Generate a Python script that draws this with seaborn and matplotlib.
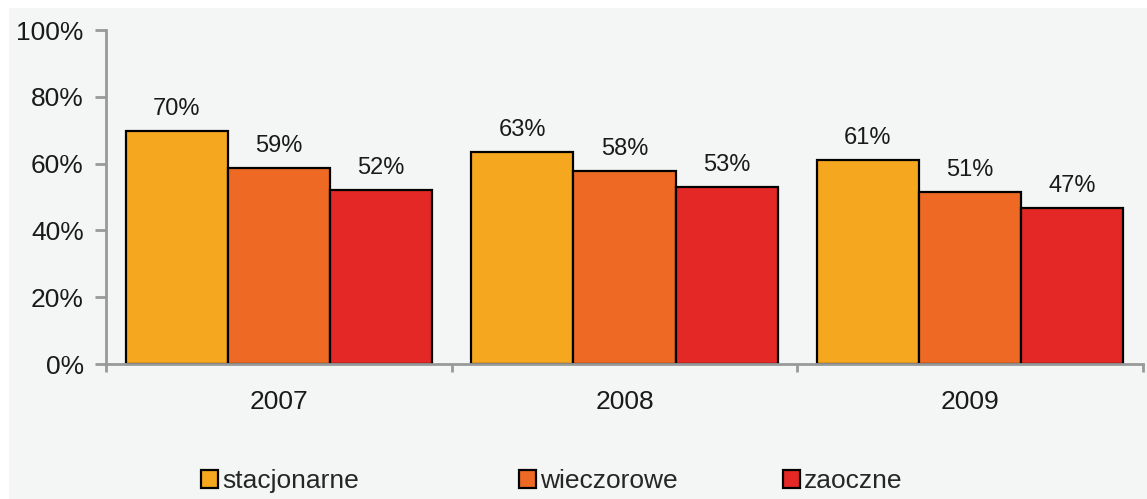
import pandas as pd
import seaborn as sns
import matplotlib.pyplot as plt
from matplotlib.patches import Rectangle
from matplotlib.ticker import PercentFormatter, FixedLocator

# --- data ---
years = ["2007", "2008", "2009"]
modes = ["stacjonarne", "wieczorowe", "zaoczne"]
stacjonarne = [69.8, 63.4, 61.0]
wieczorowe = [58.6, 57.7, 51.4]
zaoczne = [52.2, 53.0, 46.6]
colors = ["#F5A71F", "#EE6A24", "#E32826"]

BG = "#F4F5F5"
AXIS_GRAY = "#999999"

df = pd.DataFrame({
    "rok": years * 3,
    "tryb": [m for m in modes for _ in years],
    "val": stacjonarne + wieczorowe + zaoczne,
})

sns.set_theme(style="white")
plt.rcParams["font.family"] = ["Liberation Sans", "DejaVu Sans"]

fig = plt.figure(figsize=(11.47, 4.99), dpi=100, facecolor="white")
# light gray panel with thin white margin top/left
fig.patches.append(Rectangle((9 / 1147, 0), 1, 1 - 8 / 499, transform=fig.transFigure,
                             facecolor=BG, edgecolor="none", zorder=-10))

ax = fig.add_axes([106 / 1147, 1 - 364 / 499, (1143 - 106) / 1147, (364 - 30) / 499])
ax.set_facecolor(BG)

sns.barplot(data=df, x="rok", y="val", hue="tryb", hue_order=modes, palette=colors,
            saturation=1, width=0.887, edgecolor="black", linewidth=1.6, ax=ax)

for c in ax.containers:
    ax.bar_label(c, fmt="%.0f%%", padding=8, fontsize=17, color="#1a1a1a")

ax.set_ylim(0, 100)
ax.set_xlim(-0.5, 2.5)
ax.set_yticks([0, 20, 40, 60, 80, 100])
ax.yaxis.set_major_formatter(PercentFormatter(xmax=100, decimals=0))
ax.set_xlabel("")
ax.set_ylabel("")

for s in ["top", "right"]:
    ax.spines[s].set_visible(False)
for s in ["left", "bottom"]:
    ax.spines[s].set_color(AXIS_GRAY)
    ax.spines[s].set_linewidth(2)

ax.tick_params(axis="y", which="major", direction="out", length=8, width=2,
               color=AXIS_GRAY, labelsize=19, labelcolor="#1a1a1a", pad=8, left=True)
ax.tick_params(axis="x", which="major", length=0, labelsize=19, labelcolor="#1a1a1a", pad=19)
ax.xaxis.set_minor_locator(FixedLocator([-0.5, 0.5, 1.5, 2.5]))
ax.tick_params(axis="x", which="minor", direction="out", length=6, width=2,
               color=AXIS_GRAY, bottom=True)

handles, labels = ax.get_legend_handles_labels()
ax.get_legend().remove()
# one legend entry per slot, placed like the original
for h, lab, x0 in zip(handles, labels, [201, 519, 783]):
    fig.legend([h], [lab], loc="center left", bbox_to_anchor=(x0 / 1147, 1 - 481 / 499),
               frameon=False, fontsize=19, handlelength=0.65, handleheight=0.65,
               handletextpad=0.15, borderpad=0, borderaxespad=0)

fig.savefig("out.png", dpi=100, facecolor=fig.get_facecolor())
